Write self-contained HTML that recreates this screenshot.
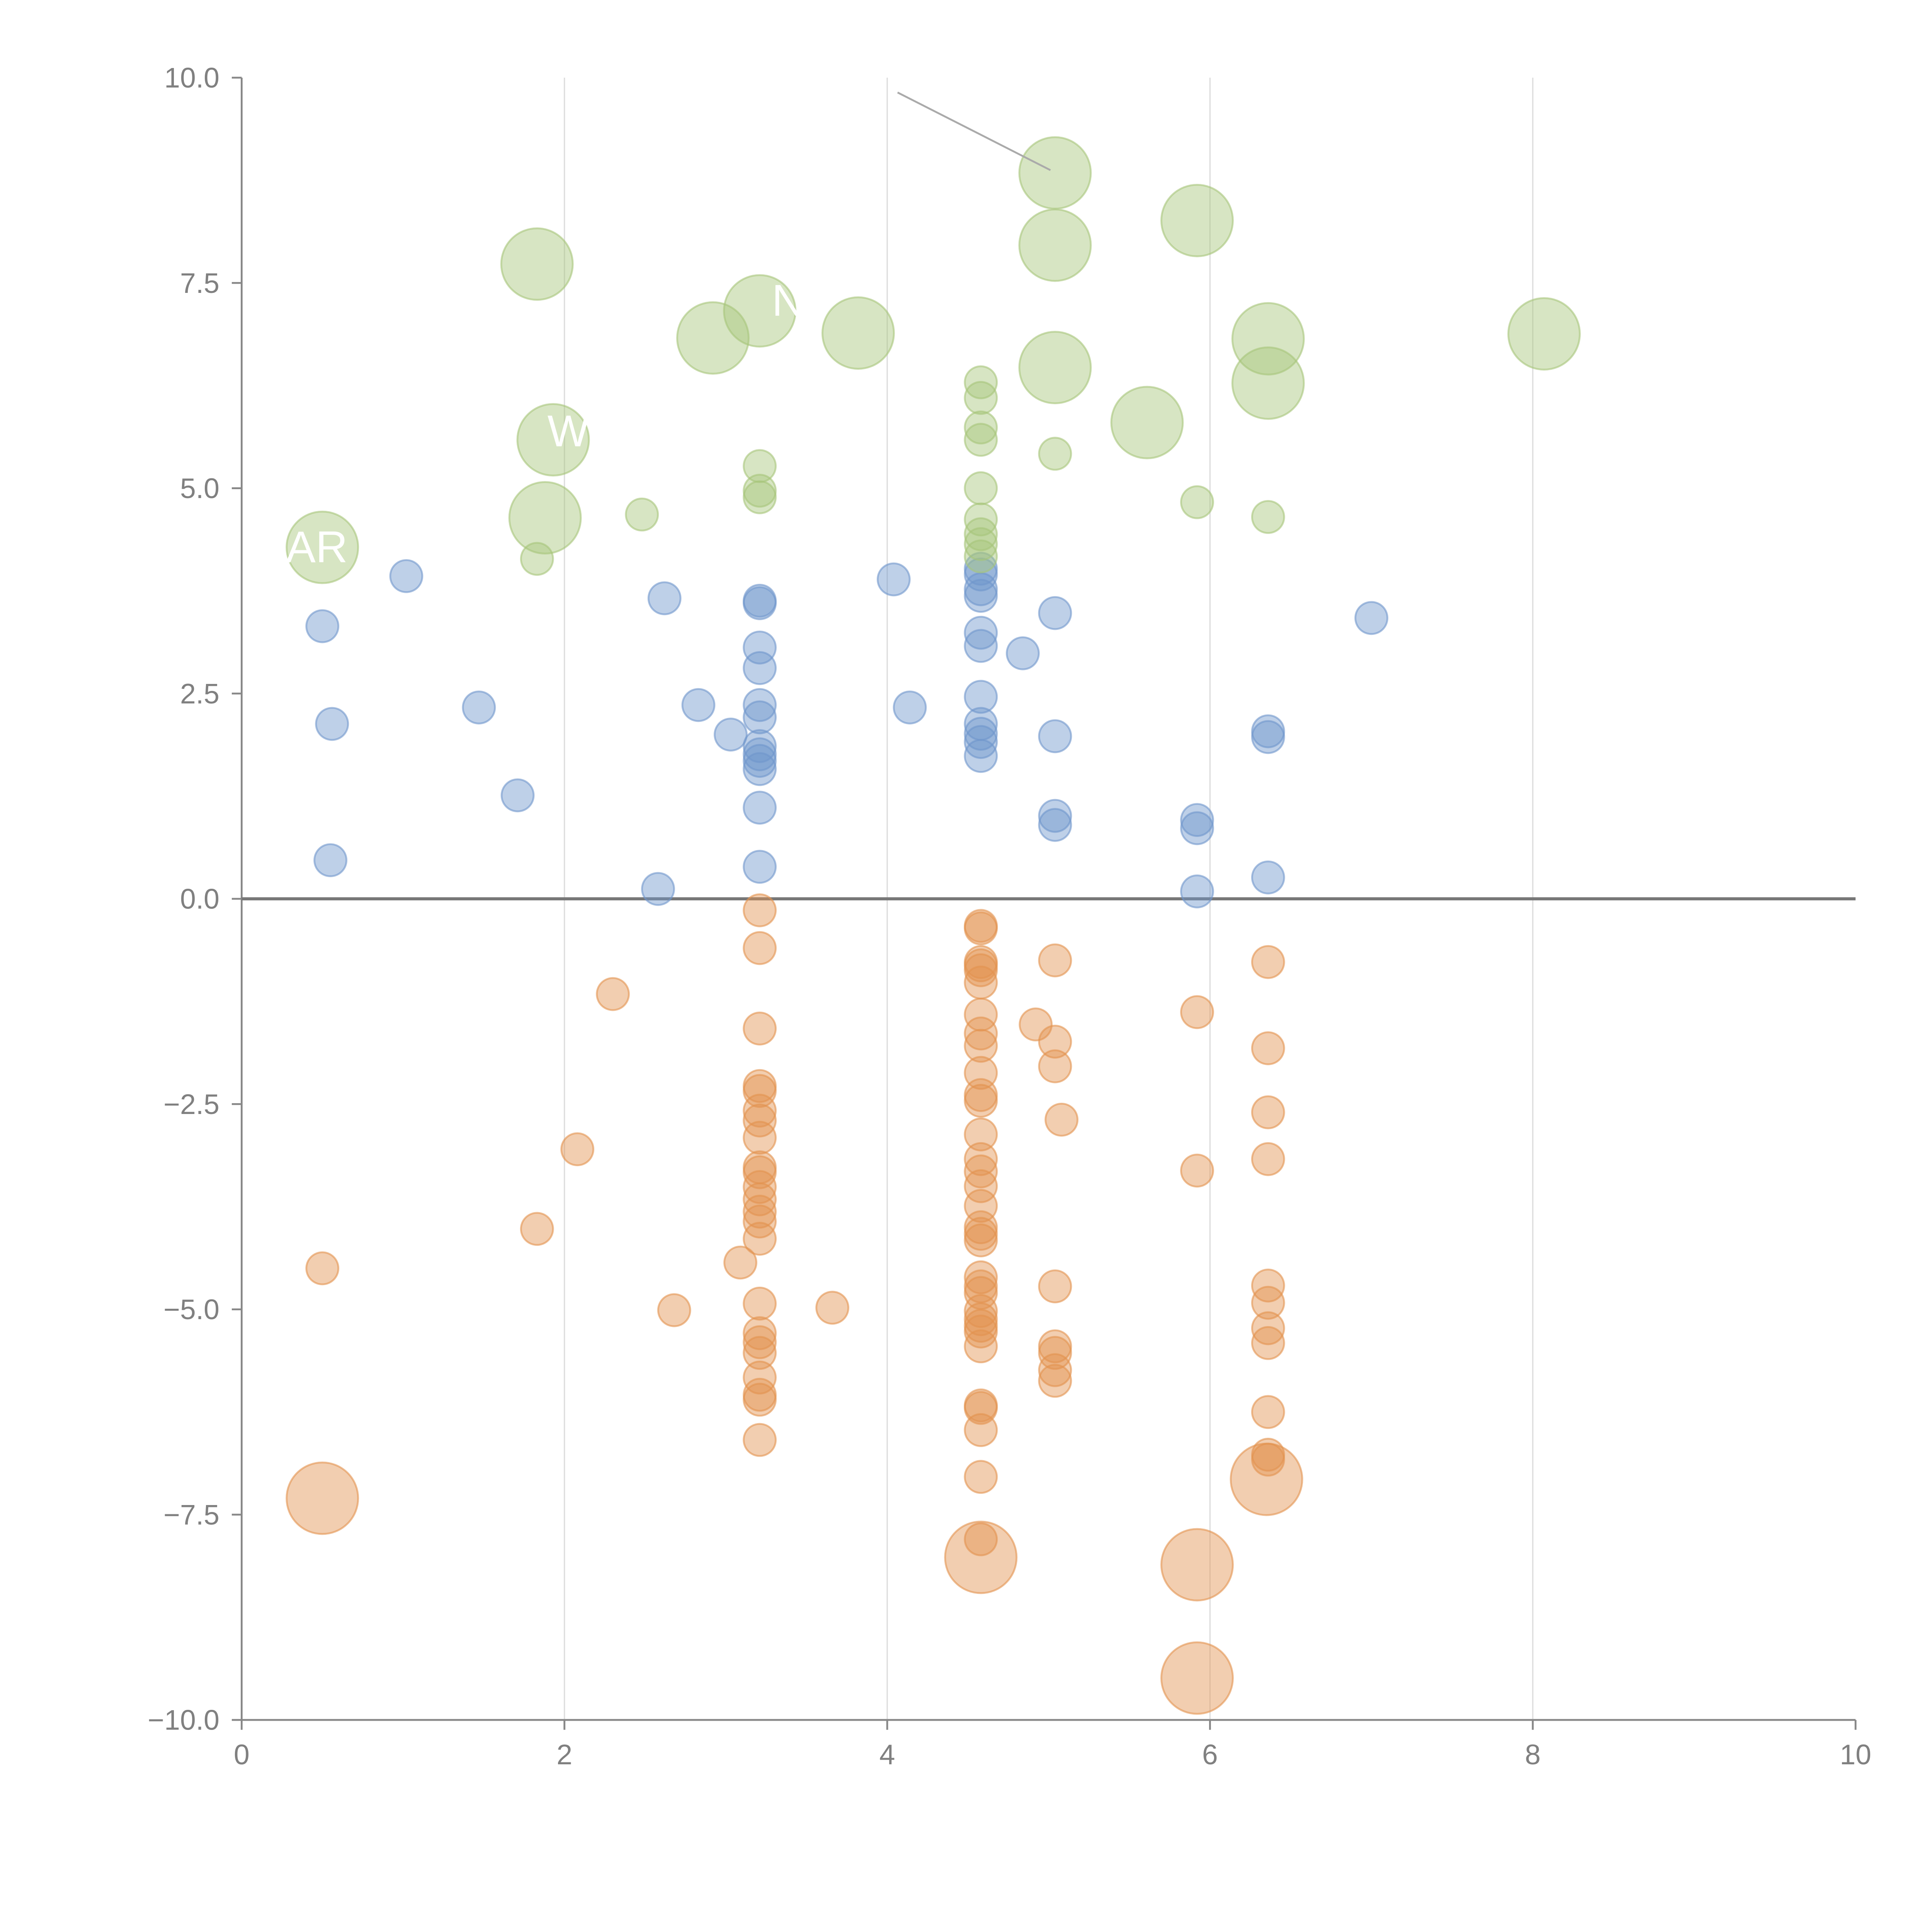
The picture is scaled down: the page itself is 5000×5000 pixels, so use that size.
<!DOCTYPE html>
<html><head><meta charset="utf-8"><style>
html,body{margin:0;padding:0;background:#fff;}
svg{display:block;}
text{font-family:"Liberation Sans",sans-serif;}
</style></head><body>
<svg id="chart" width="5000" height="5000" viewBox="0 0 1567 1567" xmlns="http://www.w3.org/2000/svg">
<g id="grid"></g>
<g id="axes"></g>
<g id="marks"></g>
<g id="labels">
<line x1="728" y1="75" x2="852" y2="138" stroke="#aaa" stroke-width="1.5"/>
<text x="232" y="456" fill="#fff" font-size="36">AR</text>
<text x="444" y="362" fill="#fff" font-size="36">W</text>
<text x="626" y="256" fill="#fff" font-size="36">Ni</text>
</g>
</svg>
<script>
const xTicks=[0,2,4,6,8,10];
const yTicks=[-10,-7.5,-5,-2.5,0,2.5,5,7.5,10];
const greenBigX=[5.04,5.04,5.92,1.83,3.21,2.92,3.82,6.36,6.36,5.04,8.07,5.61,1.93,1.88,0.50];
const greenBigY=[8.84,7.96,8.26,7.73,7.16,6.83,6.89,6.82,6.28,6.47,6.88,5.80,5.59,4.64,4.28];
const greenX=[3.21,3.21,3.21,4.58,4.58,4.58,4.58,5.04,5.92,6.36,2.48,1.83,4.58,4.58,4.58,4.58,4.58];
const greenY=[5.27,4.97,4.89,6.29,6.10,5.74,5.59,5.42,4.83,4.65,4.68,4.14,5.00,4.62,4.44,4.32,4.17];
const blueX=[1.02,0.50,0.56,1.47,1.71,0.55,2.58,2.62,2.83,3.03,3.21,3.21,3.21,3.21,3.21,3.21,3.21,3.21,3.21,3.21,3.21,3.21,4.04,4.14,4.58,4.58,4.58,4.58,4.58,4.58,4.58,4.58,4.58,4.58,4.58,4.84,5.04,5.04,5.04,5.04,5.92,5.92,5.92,6.36,6.36,6.36,7.00];
const blueY=[3.93,3.32,2.13,2.33,1.26,0.47,0.12,3.66,2.36,2.00,3.63,3.60,3.06,2.81,2.36,2.21,1.86,1.76,1.68,1.58,1.11,0.39,3.89,2.33,4.02,3.95,3.77,3.69,3.24,3.08,2.46,2.13,2.01,1.91,1.74,2.99,3.48,1.98,1.01,0.90,0.96,0.86,0.09,2.04,1.97,0.26,3.42];
const orangeX=[3.21,3.21,3.21,3.21,3.21,3.21,3.21,3.21,3.21,3.21,3.21,3.21,3.21,3.21,3.21,3.21,3.21,3.21,3.21,3.21,3.21,3.21,3.21,
2.30,2.08,1.83,0.50,2.68,3.09,3.66,
4.58,4.58,4.58,4.58,4.58,4.58,4.58,4.58,4.58,4.58,4.58,4.58,4.58,4.58,4.58,4.58,4.58,4.58,4.58,4.58,4.58,4.58,4.58,4.58,4.58,4.58,4.58,4.58,4.58,4.58,4.58,4.58,4.58,
4.92,5.04,5.04,5.04,5.08,5.04,5.04,5.04,5.04,5.04,5.92,5.92,6.36,6.36,6.36,6.36,6.36,6.36,6.36,6.36,6.36,6.36,6.36];
const orangeY=[-0.14,-0.60,-1.58,-2.28,-2.34,-2.58,-2.70,-2.91,-3.27,-3.33,-3.51,-3.66,-3.81,-3.93,-4.14,-4.93,-5.29,-5.40,-5.53,-5.83,-6.04,-6.10,-6.59,
-1.16,-3.05,-4.02,-4.50,-5.01,-4.43,-4.98,
-0.33,-0.36,-0.77,-0.81,-0.87,-1.02,-1.41,-1.64,-1.79,-2.12,-2.39,-2.46,-2.87,-3.17,-3.32,-3.50,-3.74,-4.00,-4.08,-4.16,-4.61,-4.72,-4.80,-5.02,-5.12,-5.20,-5.27,-5.45,-6.17,-6.20,-6.47,-7.04,-7.80,
-1.53,-0.75,-1.74,-2.04,-2.69,-4.72,-5.45,-5.53,-5.74,-5.87,-1.38,-3.31,-0.77,-1.82,-2.60,-3.17,-4.71,-4.92,-5.23,-5.41,-6.25,-6.77,-6.83];
const orangeBigX=[0.50,4.58,5.92,5.92,6.35];
const orangeBigY=[-7.30,-8.02,-8.11,-9.49,-7.07];

const NS="http://www.w3.org/2000/svg";
const X0=196,X1=1505,Y0=1395,Y1=63;
function sx(v){return X0+(v-0)/(10-0)*(X1-X0);}
function sy(v){return Y0-(v+10)/20*(Y0-Y1);}
function mk(tag,attrs,parent){const e=document.createElementNS(NS,tag);for(const k in attrs)e.setAttribute(k,attrs[k]);parent.appendChild(e);return e;}
const grid=document.getElementById('grid'),axes=document.getElementById('axes'),marks=document.getElementById('marks');
xTicks.forEach(t=>{
  if(t>0&&t<10){const g=mk('line',{x1:sx(t),x2:sx(t),y1:Y1,y2:Y0,stroke:'#dcdcdc','stroke-width':1},grid);
  
  }
  const tk=mk('line',{x1:sx(t),x2:sx(t),y1:Y0,y2:Y0+8,stroke:'#888','stroke-width':1.5},axes);
  
  
  const lb=mk('text',{x:sx(t),y:Y0+36,'text-anchor':'middle','font-size':23,fill:'#808080'},axes);
  lb.textContent=String(t);
  
  
});
yTicks.forEach(t=>{
  const tk=mk('line',{x1:X0-8,x2:X0,y1:sy(t),y2:sy(t),stroke:'#888','stroke-width':1.5},axes);
  
  
  const lb=mk('text',{x:X0-18,y:sy(t)+8,'text-anchor':'end','font-size':23,fill:'#808080'},axes);
  lb.textContent=(t<0?'\u2212':'')+Math.abs(t).toFixed(1);
  
  
});
const ya=mk('line',{x1:X0,x2:X0,y1:Y1,y2:Y0,stroke:'#888','stroke-width':1.5},axes);


const xa=mk('line',{x1:X0,x2:X1,y1:Y0,y2:Y0,stroke:'#888','stroke-width':1.5},axes);


const zl=mk('line',{x1:X0,x2:X1,y1:sy(0),y2:sy(0),stroke:'#777','stroke-width':2.5},axes);


function series(xs,ys,r,col,name){
  xs.forEach((x,i)=>{
    const c=mk('circle',{cx:sx(x),cy:sy(ys[i]),r:r,fill:col,'fill-opacity':0.45,stroke:col,'stroke-opacity':0.6,'stroke-width':1.5},marks);
    
    
  });
}
series(orangeX,orangeY,13,'#e3924f','orange-bubble');
series(orangeBigX,orangeBigY,29,'#e3924f','orange-large-bubble');
series(blueX,blueY,13,'#6f96cc','blue-bubble');
series(greenX,greenY,13,'#a7c57a','green-bubble');
series(greenBigX,greenBigY,29,'#a7c57a','green-large-bubble');
</script>
</body></html>
